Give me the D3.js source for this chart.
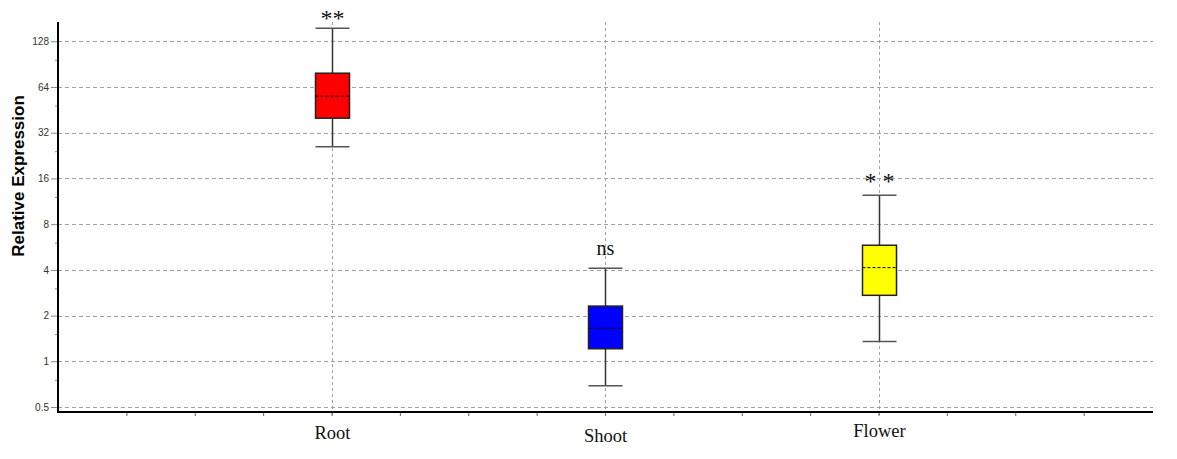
<!DOCTYPE html>
<html>
<head>
<meta charset="utf-8">
<script src="https://cdn.jsdelivr.net/npm/d3@7"></script>
<style>
  body { margin: 0; background: #fff; }
  svg { display: block; }
</style>
</head>
<body>
<svg></svg>
<script>
// tissues and their box stats (log2 axis)
const tissues = ["Root", "Shoot", "Flower"]
const whiskerLow = [25.9, 0.69, 1.35]
const boxLow = [39.9, 1.21, 2.72]
const medians = [55.7, 1.65, 4.14]
const boxHigh = [78.9, 2.31, 5.81]
const whiskerHigh = [156, 4.1, 12.4]
const signif = ["**", "ns", "* *"]
const boxColors = ["#ff0000", "#0000ff", "#ffff00"]
const yTicks = [0.5, 1, 2, 4, 8, 16, 32, 64, 128]
const yMinor = [0.75, 1.5, 3, 6, 12, 24, 48, 96]

let svgWidth = 1177, svgHeight = 459
let plotLeft = 58, plotRight = 1152, plotTop = 22, plotBottom = 412

let svg = d3.select('svg')
    .attr('width', svgWidth)
    .attr('height', svgHeight)

let x = d3.scaleLinear().domain([0, 4]).range([plotLeft, plotRight])
let y = d3.scaleLog().base(2).domain([0.4637, 171.5]).range([plotBottom, plotTop])

// horizontal grid
svg.append('g')
    .selectAll('line')
    .data(yTicks)
    .enter()
    .append('line')
    .attr('x1', plotLeft).attr('x2', plotRight + 1)
    .attr('y1', d => Math.round(y(d)) + 0.5)
    .attr('y2', d => Math.round(y(d)) + 0.5)
    .attr('stroke', '#a0a0a0')
    .attr('stroke-dasharray', '4,3')

// vertical grid at each tissue
svg.append('g')
    .selectAll('line')
    .data(tissues)
    .enter()
    .append('line')
    .attr('x1', (d, i) => Math.round(x(i + 1)) + 0.5)
    .attr('x2', (d, i) => Math.round(x(i + 1)) + 0.5)
    .attr('y1', plotTop).attr('y2', plotBottom + 5)
    .attr('stroke', '#a0a0a0')
    .attr('stroke-dasharray', '3,3')

// y axis
let yAxis = svg.append('g')
    .attr('transform', 'translate(' + plotLeft + ',0)')
    .call(d3.axisLeft(y).tickValues(yTicks).tickFormat(d3.format('')).tickSize(7).tickPadding(2))
yAxis.select('.domain').remove()
yAxis.selectAll('line').attr('stroke', '#888')
yAxis.selectAll('text')
    .attr('font-family', 'Liberation Sans, Arial, sans-serif')
    .attr('font-size', 10)
    .attr('fill', '#333')
yAxis.selectAll('.minor')
    .data(yMinor)
    .enter()
    .append('line')
    .attr('x1', -3).attr('x2', 0)
    .attr('y1', d => y(d)).attr('y2', d => y(d))
    .attr('stroke', '#888')

// x axis minor ticks
let xAxis = svg.append('g')
    .attr('transform', 'translate(0,' + plotBottom + ')')
    .call(d3.axisBottom(x).tickValues(d3.range(1, 16).map(d => d / 4)).tickFormat('').tickSize(4))
xAxis.select('.domain').remove()
xAxis.selectAll('line').attr('stroke', '#666')

// axis lines
svg.append('line')
    .attr('x1', plotLeft).attr('x2', plotLeft)
    .attr('y1', plotTop).attr('y2', plotBottom + 1)
    .attr('stroke', '#000').attr('stroke-width', 2)
svg.append('line')
    .attr('x1', plotLeft - 1).attr('x2', plotRight + 1)
    .attr('y1', plotBottom).attr('y2', plotBottom)
    .attr('stroke', '#000').attr('stroke-width', 2)

// boxes
let boxWidth = 34, capWidth = 34
let groups = svg.selectAll('.box')
    .data(tissues)
    .enter()
    .append('g')
    .attr('class', 'box')
    .attr('transform', (d, i) => 'translate(' + (Math.round(x(i + 1)) + 0.5) + ',0)')

groups.append('line')
    .attr('x1', 0).attr('x2', 0)
    .attr('y1', (d, i) => y(whiskerLow[i]))
    .attr('y2', (d, i) => y(whiskerHigh[i]))
    .attr('stroke', '#333').attr('stroke-width', 1.5)

groups.append('line')
    .attr('x1', -capWidth / 2).attr('x2', capWidth / 2)
    .attr('y1', (d, i) => y(whiskerHigh[i]))
    .attr('y2', (d, i) => y(whiskerHigh[i]))
    .attr('stroke', '#555').attr('stroke-width', 1.5)

groups.append('line')
    .attr('x1', -capWidth / 2).attr('x2', capWidth / 2)
    .attr('y1', (d, i) => y(whiskerLow[i]))
    .attr('y2', (d, i) => y(whiskerLow[i]))
    .attr('stroke', '#555').attr('stroke-width', 1.5)

groups.append('rect')
    .attr('x', -boxWidth / 2)
    .attr('width', boxWidth)
    .attr('y', (d, i) => y(boxHigh[i]))
    .attr('height', (d, i) => y(boxLow[i]) - y(boxHigh[i]))
    .attr('fill', (d, i) => boxColors[i])
    .attr('stroke', '#222').attr('stroke-width', 1.5)

groups.append('line')
    .attr('x1', -boxWidth / 2).attr('x2', boxWidth / 2)
    .attr('y1', (d, i) => y(medians[i]))
    .attr('y2', (d, i) => y(medians[i]))
    .attr('stroke', '#000').attr('stroke-dasharray', '3,2')

// significance marks (asterisks drawn a bit bigger, like the original)
let markGap = [2, 13, 6]
groups.append('text')
    .text((d, i) => signif[i])
    .attr('text-anchor', 'middle')
    .attr('y', (d, i) => y(whiskerHigh[i]) - markGap[i])
    .attr('font-family', 'Liberation Serif, Times New Roman, serif')
    .attr('font-size', (d, i) => signif[i] == 'ns' ? 20 : 24)
    .attr('fill', '#111')

// category labels
let labelNudge = [0, 3, -2]
groups.append('text')
    .text(d => d)
    .attr('text-anchor', 'middle')
    .attr('y', (d, i) => 439 + labelNudge[i])
    .attr('font-family', 'Liberation Serif, Times New Roman, serif')
    .attr('font-size', 18.5)
    .attr('fill', '#111')

// y title
svg.append('text')
    .text('Relative Expression')
    .attr('transform', 'translate(24,176) rotate(-90)')
    .attr('text-anchor', 'middle')
    .attr('font-family', 'Liberation Sans, Arial, sans-serif')
    .attr('font-weight', 'bold')
    .attr('font-size', 17)
    .attr('fill', '#000')
</script>
</body>
</html>
